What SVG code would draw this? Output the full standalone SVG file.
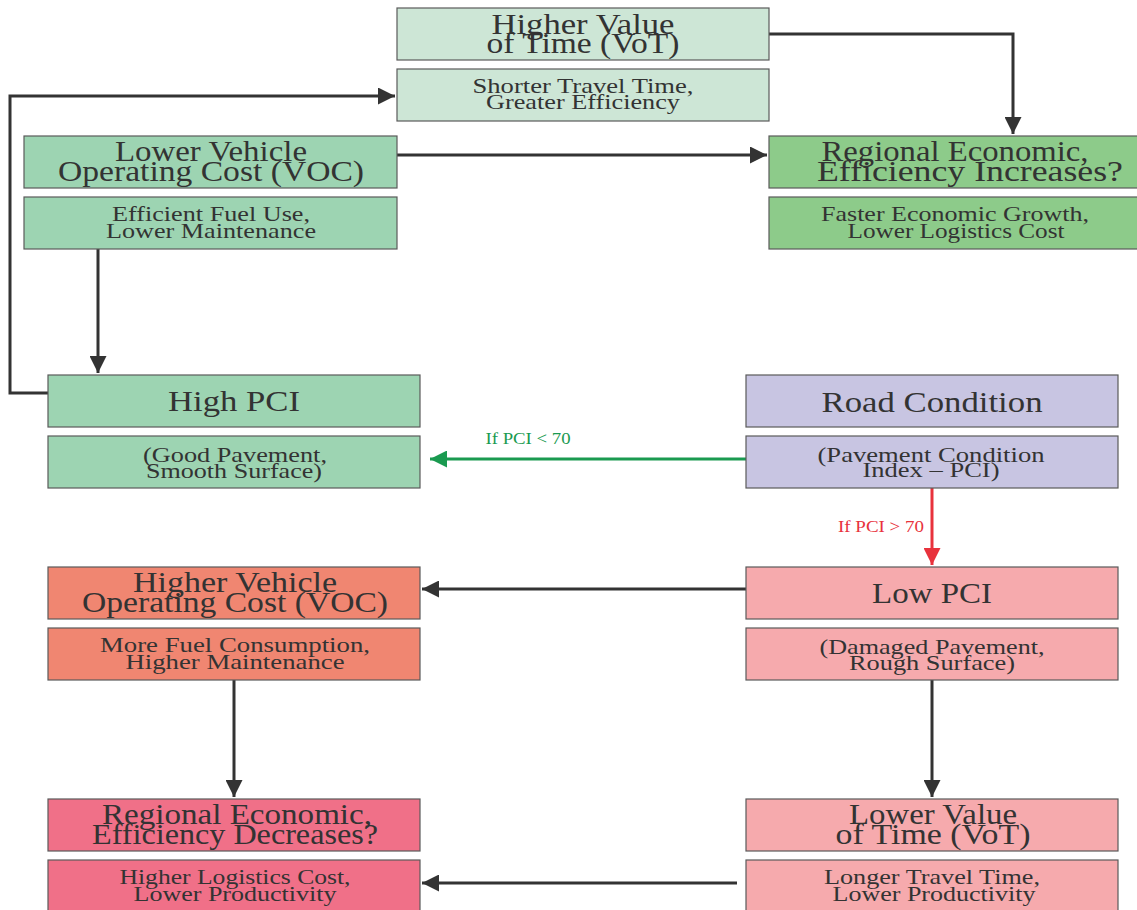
<svg xmlns="http://www.w3.org/2000/svg" width="1137" height="910" viewBox="0 0 1137 910">
<style>
.box{stroke:#5a5a5a;stroke-width:1.2}
.t{font-family:"Liberation Serif",serif;font-size:30px;fill:#333;text-anchor:middle}
.s{font-family:"Liberation Serif",serif;font-size:22px;fill:#333;text-anchor:middle}
.c{fill:none;stroke:#333;stroke-width:3}
.lbl{font-family:"Liberation Serif",serif;font-size:16px;text-anchor:middle}
</style>
<defs>
<marker id="ah" viewBox="0 0 10 10" refX="10" refY="5" markerUnits="userSpaceOnUse" markerWidth="18" markerHeight="17" orient="auto"><path d="M0,0 L10,5 L0,10 z" fill="#333"/></marker>
<marker id="ag" viewBox="0 0 10 10" refX="10" refY="5" markerUnits="userSpaceOnUse" markerWidth="18" markerHeight="17" orient="auto"><path d="M0,0 L10,5 L0,10 z" fill="#1a9a50"/></marker>
<marker id="ar" viewBox="0 0 10 10" refX="10" refY="5" markerUnits="userSpaceOnUse" markerWidth="18" markerHeight="17" orient="auto"><path d="M0,0 L10,5 L0,10 z" fill="#e8323c"/></marker>
</defs>
<rect width="1137" height="910" fill="#fff"/>

<g id="connectors">
<path class="c" d="M769,34 H1013 V134" marker-end="url(#ah)"/>
<path class="c" d="M48,393 H10 V96 H395" marker-end="url(#ah)"/>
<path class="c" d="M397,155 H767" marker-end="url(#ah)"/>
<path class="c" d="M98,249 V373" marker-end="url(#ah)"/>
<path d="M746,459 H430" fill="none" stroke="#1a9a50" stroke-width="3" marker-end="url(#ag)"/>
<text class="lbl" x="528" y="444" fill="#1a9a50" textLength="85" lengthAdjust="spacingAndGlyphs">If PCI &lt; 70</text>
<path d="M932,488 V565" fill="none" stroke="#e8323c" stroke-width="3" marker-end="url(#ar)"/>
<text class="lbl" x="881" y="532" fill="#e8323c" textLength="86" lengthAdjust="spacingAndGlyphs">If PCI &gt; 70</text>
<path class="c" d="M746,589 H422" marker-end="url(#ah)"/>
<path class="c" d="M234,680 V797" marker-end="url(#ah)"/>
<path class="c" d="M932,680 V797" marker-end="url(#ah)"/>
<path class="c" d="M737,883 H422" marker-end="url(#ah)"/>
</g>

<g id="higher-vot">
<rect class="box" x="397" y="8" width="372" height="52" fill="#cde6d6"/>
<text class="t"><tspan x="583" y="34" textLength="183" lengthAdjust="spacingAndGlyphs">Higher Value</tspan><tspan x="583" y="53" textLength="193" lengthAdjust="spacingAndGlyphs">of Time (VoT)</tspan></text>
<rect class="box" x="397" y="69" width="372" height="52" fill="#cde6d6"/>
<text class="s"><tspan x="583" y="93" textLength="221" lengthAdjust="spacingAndGlyphs">Shorter Travel Time,</tspan><tspan x="583" y="109" textLength="194" lengthAdjust="spacingAndGlyphs">Greater Efficiency</tspan></text>
</g>

<g id="lower-voc">
<rect class="box" x="24" y="136" width="373" height="52" fill="#9dd4b2"/>
<text class="t"><tspan x="211" y="161" textLength="192" lengthAdjust="spacingAndGlyphs">Lower Vehicle</tspan><tspan x="211" y="181" textLength="306" lengthAdjust="spacingAndGlyphs">Operating Cost (VOC)</tspan></text>
<rect class="box" x="24" y="197" width="373" height="52" fill="#9dd4b2"/>
<text class="s"><tspan x="211" y="221" textLength="198" lengthAdjust="spacingAndGlyphs">Efficient Fuel Use,</tspan><tspan x="211" y="238" textLength="210" lengthAdjust="spacingAndGlyphs">Lower Maintenance</tspan></text>
</g>

<g id="regional-increase">
<rect class="box" x="769" y="136" width="372" height="52" fill="#8dcb8a"/>
<text class="t"><tspan x="955" y="161" textLength="267" lengthAdjust="spacingAndGlyphs">Regional Economic,</tspan><tspan x="970" y="181" textLength="306" lengthAdjust="spacingAndGlyphs">Efficiency Increases?</tspan></text>
<rect class="box" x="769" y="197" width="372" height="52" fill="#8dcb8a"/>
<text class="s"><tspan x="955" y="221" textLength="268" lengthAdjust="spacingAndGlyphs">Faster Economic Growth,</tspan><tspan x="956" y="238" textLength="217" lengthAdjust="spacingAndGlyphs">Lower Logistics Cost</tspan></text>
</g>

<g id="high-pci">
<rect class="box" x="48" y="375" width="372" height="52" fill="#9dd4b2"/>
<text class="t" x="234" y="411" textLength="132" lengthAdjust="spacingAndGlyphs">High PCI</text>
<rect class="box" x="48" y="436" width="372" height="52" fill="#9dd4b2"/>
<text class="s"><tspan x="235" y="462" textLength="184" lengthAdjust="spacingAndGlyphs">(Good Pavement,</tspan><tspan x="234" y="478" textLength="176" lengthAdjust="spacingAndGlyphs">Smooth Surface)</tspan></text>
</g>

<g id="road-condition">
<rect class="box" x="746" y="375" width="372" height="52" fill="#c8c5e2"/>
<text class="t" x="932" y="412" textLength="221" lengthAdjust="spacingAndGlyphs">Road Condition</text>
<rect class="box" x="746" y="436" width="372" height="52" fill="#c8c5e2"/>
<text class="s"><tspan x="931" y="462" textLength="227" lengthAdjust="spacingAndGlyphs">(Pavement Condition</tspan><tspan x="931" y="477" textLength="137" lengthAdjust="spacingAndGlyphs">Index – PCI)</tspan></text>
</g>

<g id="higher-voc">
<rect class="box" x="48" y="567" width="372" height="52" fill="#f08671"/>
<text class="t"><tspan x="235" y="592" textLength="204" lengthAdjust="spacingAndGlyphs">Higher Vehicle</tspan><tspan x="235" y="612" textLength="306" lengthAdjust="spacingAndGlyphs">Operating Cost (VOC)</tspan></text>
<rect class="box" x="48" y="628" width="372" height="52" fill="#f08671"/>
<text class="s"><tspan x="235" y="652" textLength="270" lengthAdjust="spacingAndGlyphs">More Fuel Consumption,</tspan><tspan x="235" y="669" textLength="219" lengthAdjust="spacingAndGlyphs">Higher Maintenance</tspan></text>
</g>

<g id="low-pci">
<rect class="box" x="746" y="567" width="372" height="52" fill="#f6aaad"/>
<text class="t" x="932" y="603" textLength="120" lengthAdjust="spacingAndGlyphs">Low PCI</text>
<rect class="box" x="746" y="628" width="372" height="52" fill="#f6aaad"/>
<text class="s"><tspan x="932" y="654" textLength="225" lengthAdjust="spacingAndGlyphs">(Damaged Pavement,</tspan><tspan x="932" y="670" textLength="166" lengthAdjust="spacingAndGlyphs">Rough Surface)</tspan></text>
</g>

<g id="regional-decrease">
<rect class="box" x="48" y="799" width="372" height="52" fill="#f07088"/>
<text class="t"><tspan x="237" y="824" textLength="270" lengthAdjust="spacingAndGlyphs">Regional Economic,</tspan><tspan x="235" y="844" textLength="286" lengthAdjust="spacingAndGlyphs">Efficiency Decreases?</tspan></text>
<rect class="box" x="48" y="860" width="372" height="52" fill="#f07088"/>
<text class="s"><tspan x="235" y="884" textLength="231" lengthAdjust="spacingAndGlyphs">Higher Logistics Cost,</tspan><tspan x="235" y="901" textLength="203" lengthAdjust="spacingAndGlyphs">Lower Productivity</tspan></text>
</g>

<g id="lower-vot">
<rect class="box" x="746" y="799" width="372" height="52" fill="#f6aaad"/>
<text class="t"><tspan x="933" y="824" textLength="168" lengthAdjust="spacingAndGlyphs">Lower Value</tspan><tspan x="933" y="844" textLength="195" lengthAdjust="spacingAndGlyphs">of Time (VoT)</tspan></text>
<rect class="box" x="746" y="860" width="372" height="52" fill="#f6aaad"/>
<text class="s"><tspan x="932" y="884" textLength="216" lengthAdjust="spacingAndGlyphs">Longer Travel Time,</tspan><tspan x="934" y="901" textLength="203" lengthAdjust="spacingAndGlyphs">Lower Productivity</tspan></text>
</g>
</svg>
